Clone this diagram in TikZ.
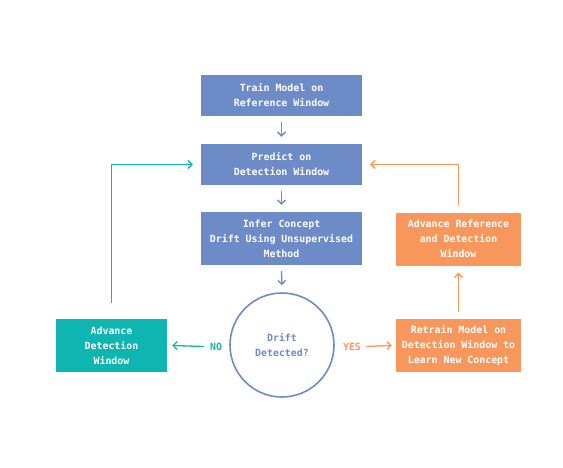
\documentclass[tikz,border=0pt]{standalone}
\usepackage{fontspec}
\setmonofont{DejaVu Sans Mono}
\usetikzlibrary{arrows.meta}
\definecolor{cblue}{HTML}{6D8BC7}
\definecolor{cteal}{HTML}{0FB5B1}
\definecolor{corange}{HTML}{F7975B}
\begin{document}
\begin{tikzpicture}[x=1pt,y=-1pt,
  box/.style={rectangle, inner sep=0pt, text=white, align=center,
    font=\ttfamily\bfseries\fontsize{9.9}{15}\selectfont},
  conn/.style={line width=1.3pt, -{Straight Barb[length=4pt,width=8pt,line width=1.3pt]}}]
\useasboundingbox (0,0) rectangle (563,467);
\node[box, fill=cblue, minimum width=161pt, minimum height=41pt] (train) at (281.5,95.5) {Train Model on\\Reference Window};
\node[box, fill=cblue, minimum width=161pt, minimum height=41pt] (predict) at (281.5,164.5) {Predict on\\Detection Window};
\node[box, fill=cblue, minimum width=161pt, minimum height=53pt] (infer) at (281.5,238.5) {Infer Concept\\Drift Using Unsupervised\\Method};
\node[circle, draw=cblue, line width=1.6pt, minimum size=104pt, inner sep=0pt, text=cblue, align=center,
  font=\ttfamily\bfseries\fontsize{9.9}{15}\selectfont] (drift) at (282,345) {Drift\\Detected?};
\node[box, fill=cteal, minimum width=111pt, minimum height=53pt] (advdet) at (111.5,345.5) {Advance\\Detection\\Window};
\node[box, fill=corange, minimum width=125pt, minimum height=53pt] (retrain) at (458.5,345.5) {Retrain Model on\\Detection Window to\\Learn New Concept};
\node[box, fill=corange, minimum width=125pt, minimum height=53pt] (advref) at (458.5,239) {Advance Reference\\and Detection\\Window};
\node[font=\ttfamily\bfseries\fontsize{9.9}{12}\selectfont, text=cteal, inner sep=0pt] (no) at (216,346.5) {NO};
\node[font=\ttfamily\bfseries\fontsize{9.9}{12}\selectfont, text=corange, inner sep=0pt] (yes) at (352,346.5) {YES};

\draw[conn, cblue] ([yshift=-6pt]train.south) -- ([yshift=7pt]predict.north);
\draw[conn, cblue] ([yshift=-6pt]predict.south) -- ([yshift=7pt]infer.north);
\draw[conn, cblue] ([yshift=-6pt]infer.south) -- ([yshift=7pt]drift.north);
\draw[conn, cteal] ([xshift=-6pt]no.west) -- ([xshift=5pt]advdet.east);
\draw[conn, corange] ([xshift=5pt]yes.east) -- ([xshift=-4pt]retrain.west);
\draw[conn, corange] ([yshift=7pt]retrain.north) -- ([yshift=-7pt]advref.south);
\draw[conn, corange] ([yshift=7pt]advref.north) |- ([xshift=8pt]predict.east);
\draw[conn, cteal] ([yshift=16pt]advdet.north) |- ([xshift=-8pt]predict.west);
\end{tikzpicture}
\end{document}
